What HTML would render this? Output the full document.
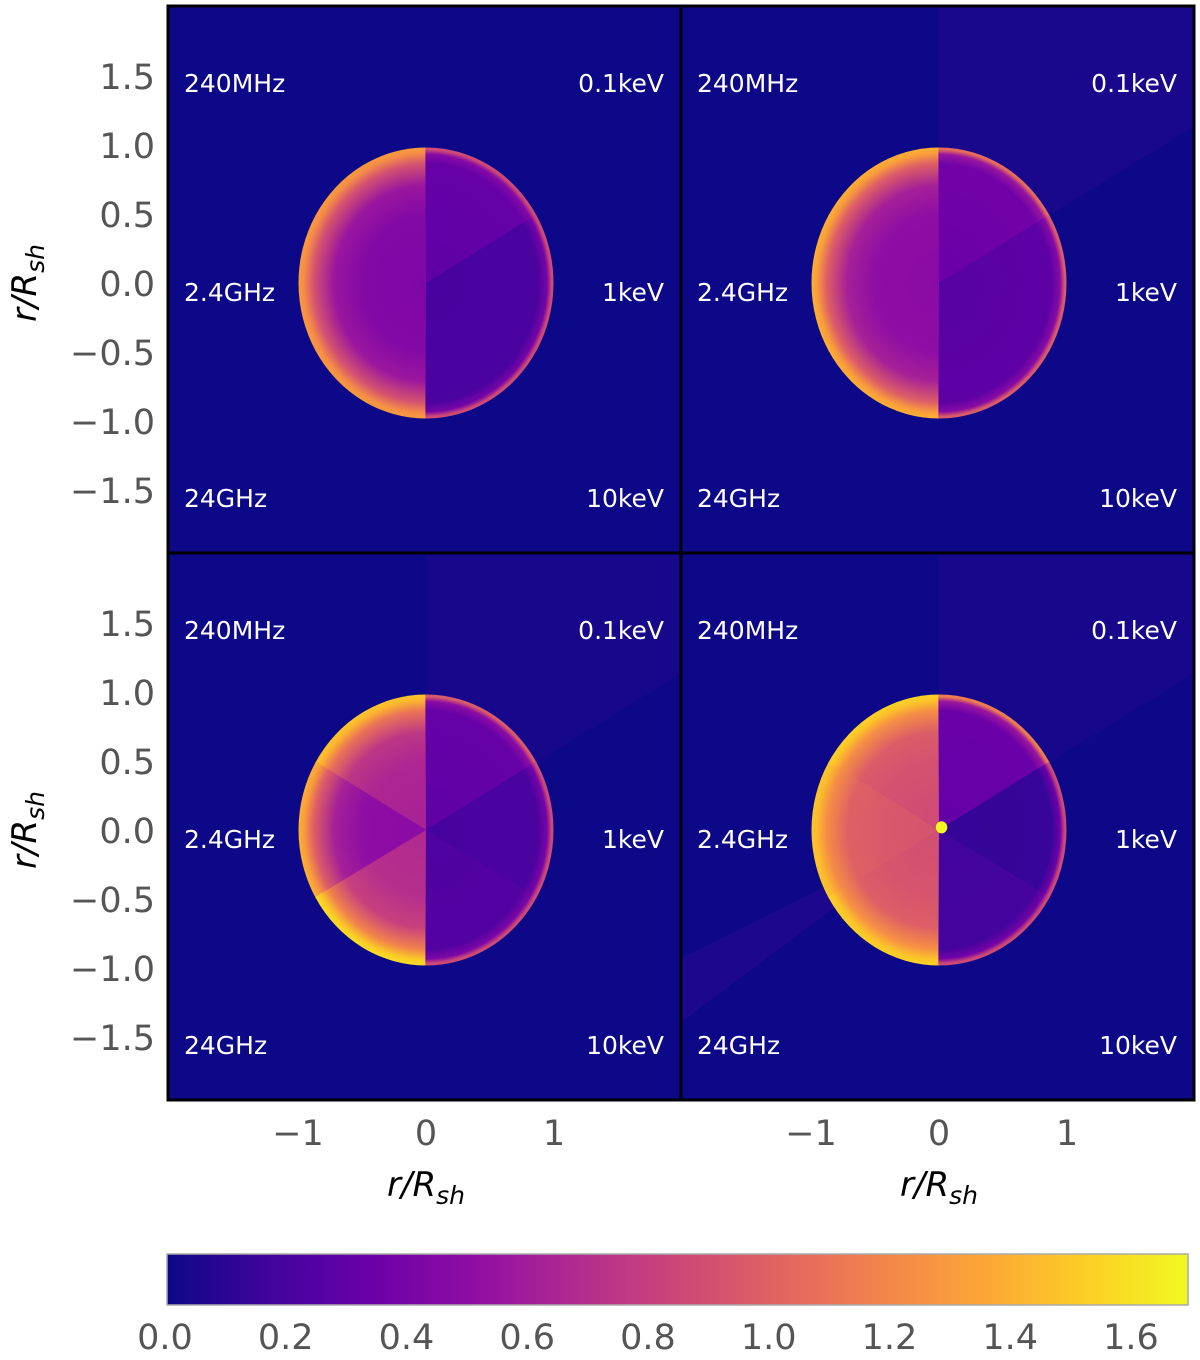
<!DOCTYPE html>
<html><head><meta charset="utf-8"><style>
body{margin:0;background:#fff;width:1200px;height:1360px;overflow:hidden}
svg{display:block;overflow:hidden}
text{font-family:"DejaVu Sans","Liberation Sans",sans-serif}
</style></head><body>
<svg id="s" width="1200" height="1360" viewBox="0 0 1200 1360"></svg>
<script>
const yTicks=[1.5,1.0,0.5,0.0,-0.5,-1.0,-1.5];
const xTicks=[-1,0,1];
const cbTicks=[0.0,0.2,0.4,0.6,0.8,1.0,1.2,1.4,1.6];
const leftLabels=["240MHz","2.4GHz","24GHz"];
const rightLabels=["0.1keV","1keV","10keV"];
const leftCenter=[[0.45,0.45,0.45],[0.5,0.5,0.5],[0.65,0.5,0.7],[0.9,0.95,0.92]];
const leftEdge=[[1.35,1.35,1.35],[1.45,1.45,1.45],[1.55,1.45,1.65],[1.6,1.55,1.6]];
const rightCenter=[[0.3,0.2,0.2],[0.35,0.27,0.27],[0.3,0.2,0.23],[0.32,0.13,0.18]];
const rightEdge=[[0.9,0.9,0.9],[1.1,1.0,1.0],[1.0,0.9,0.9],[1.2,0.9,0.9]];
const outerWedge=[0.0,0.04,0.035,0.035];
const vmax=1.76;
const P=["#0d0887","#41049d","#6a00a8","#8f0da4","#b12a90","#cc4778","#e16462","#f2844b","#fca636","#fcce25","#f0f921"];
function hx(h){return [1,3,5].map(i=>parseInt(h.substr(i,2),16));}
function plasma(v){let t=Math.max(0,Math.min(1,v/vmax))*10;let i=Math.min(9,Math.floor(t)),f=t-i;
 const a=hx(P[i]),b=hx(P[i+1]);return "rgb("+a.map((x,k)=>Math.round(x+(b[k]-x)*f)).join(",")+")";}
const s=document.getElementById('s');const NS="http://www.w3.org/2000/svg";
function el(tag,attrs,parent){const e=document.createElementNS(NS,tag);for(const k in attrs)e.setAttribute(k,attrs[k]);(parent||s).appendChild(e);return e;}
const defs=el('defs',{});
const X0=168,W=513,Y0=6,H=547,RX=127.5,RY=135.5,YS=138,XS=128;
const panels=[[0,0],[1,0],[0,1],[1,1]];
function wedge(a0,a1,r){const p=a=>[r*Math.cos(a*Math.PI/180),-r*Math.sin(a*Math.PI/180)];const A=p(a0),B=p(a1);
 return `M0,0L${A[0]},${A[1]}A${r},${r} 0 0 0 ${B[0]},${B[1]}Z`;}
let gid=0;
function grad(stops){const id="g"+(gid++);const g=el('radialGradient',{id:id,gradientUnits:"userSpaceOnUse",cx:0,cy:0,r:1},defs);
 stops.forEach(([o,v])=>el('stop',{offset:o,'stop-color':plasma(v)},g));return id;}
function leftGrad(c,e){return grad([[0,c],[0.5,c*1.05],[0.72,c+(e-c)*0.15],[0.88,c+(e-c)*0.55],[0.96,c+(e-c)*0.92],[1,e]]);}
function rightGrad(c,e){return grad([[0,c],[0.88,c*1.1],[0.95,c+(e-c)*0.3],[0.985,e],[1,e]]);}
const leftAng=[[90,150],[150,210],[210,270]],rightAng=[[30,90],[-30,30],[-90,-30]];
panels.forEach(([c,r],pi)=>{
 const px=X0+c*W,py=Y0+r*H,cx=px+258,cy=py+277;
 const g=el('g',{});
 const cp=el('clipPath',{id:'cp'+pi},defs);el('rect',{x:px,y:py,width:W,height:H},cp);
 el('rect',{x:px,y:py,width:W,height:H,fill:plasma(0)},g);
 const inner=el('g',{'clip-path':'url(#cp'+pi+')'},g);
 const u=el('g',{transform:`translate(${cx},${cy}) scale(${RX},${RY})`},inner);
 if(outerWedge[pi]>0){const w=el('path',{d:wedge(30,90,6),fill:plasma(outerWedge[pi])},u);
  }
 if(pi==3){const gl=el('path',{d:wedge(205,215,6),fill:plasma(0.05)},u);
  }
 leftAng.forEach((a,i)=>{const p=el('path',{d:wedge(a[0]-0.3,a[1]+0.3,1),fill:`url(#${leftGrad(leftCenter[pi][i],leftEdge[pi][i])})`},u);
  });
 rightAng.forEach((a,i)=>{const p=el('path',{d:wedge(a[0]-0.3,a[1]+0.3,1),fill:`url(#${rightGrad(rightCenter[pi][i],rightEdge[pi][i])})`},u);
  });
 if(pi==3){const d=el('ellipse',{cx:0.02,cy:-0.02,rx:0.045,ry:0.045,fill:plasma(1.75)},u);
  }
 [0,1,2].forEach(i=>{const ty=py+[86,295,501][i];
  const t1=el('text',{x:px+16,y:ty,'font-size':25,fill:'#fff'},g);t1.textContent=leftLabels[i];
  
  const t2=el('text',{x:px+W-17,y:ty,'font-size':25,fill:'#fff','text-anchor':'end'},g);t2.textContent=rightLabels[i];
  });
});
el('rect',{x:X0,y:Y0,width:2*W,height:2*H,fill:'none',stroke:'#000','stroke-width':3,});
el('line',{x1:X0+W,y1:Y0,x2:X0+W,y2:Y0+2*H,stroke:'#000','stroke-width':3});
el('line',{x1:X0,y1:Y0+H,x2:X0+2*W,y2:Y0+H,stroke:'#000','stroke-width':3});
[0,1].forEach(r=>{const cy=Y0+r*H+277;
 yTicks.forEach(v=>{const t=el('text',{x:155,y:cy-v*YS+13,'font-size':35,fill:'#555','text-anchor':'end'});
  t.textContent=v.toFixed(1).replace('-','\u2212');});
 const yl=el('text',{transform:`translate(36,${cy}) rotate(-90)`,'font-size':34,fill:'#000','text-anchor':'middle','font-style':'italic'});
 yl.innerHTML='r/R<tspan font-size="25" dy="8">sh</tspan>';});
[0,1].forEach(c=>{const cx=X0+c*W+258;
 xTicks.forEach(v=>{const t=el('text',{x:cx+v*XS,y:1145,'font-size':35,fill:'#555','text-anchor':'middle'});
  t.textContent=String(v).replace('-','\u2212');});
 const xl=el('text',{x:cx,y:1196,'font-size':34,fill:'#000','text-anchor':'middle','font-style':'italic'});
 xl.innerHTML='r/R<tspan font-size="25" dy="8">sh</tspan>';});
const CB0=167,CBW=1021,CBY=1254,CBH=51,CBS=(1131-165)/1.6;
const lg=el('linearGradient',{id:'cbg',x1:0,x2:1,y1:0,y2:0},defs);
for(let i=0;i<=20;i++)el('stop',{offset:i/20,'stop-color':plasma(vmax*i/20)},lg);
el('rect',{x:CB0,y:CBY,width:CBW,height:CBH,fill:'url(#cbg)',stroke:'#aaa','stroke-width':1.5,});
cbTicks.forEach(v=>{const t=el('text',{x:165+v*CBS,y:1349,'font-size':35,fill:'#555','text-anchor':'middle'});
 t.textContent=v.toFixed(1);});
</script>
</body></html>
